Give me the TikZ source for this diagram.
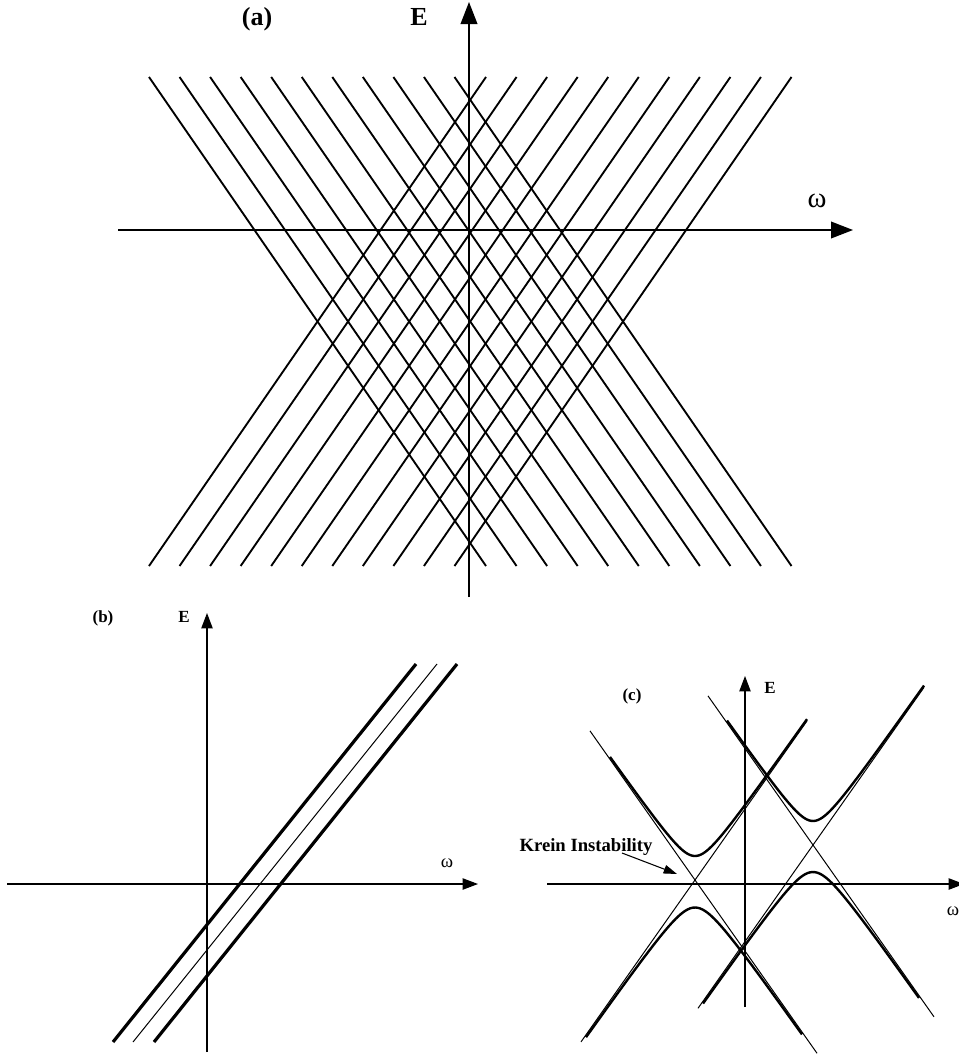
\documentclass[tikz,border=0pt]{standalone}
\usepackage{fontspec}
\setmainfont{Liberation Serif}
\usetikzlibrary{arrows.meta}
\begin{document}
\begin{tikzpicture}[x=0.75pt,y=-0.75pt,
  bigaxis/.style={line width=1.2pt, -{Triangle[length=16.5pt,width=12.5pt]}},
  smallaxis/.style={line width=0.8pt, -{Triangle[length=11.5pt,width=8.5pt]}},
  gridline/.style={line width=1.4pt},
  thinline/.style={line width=0.75pt},
  thickline/.style={line width=2.4pt},
  branch/.style={line width=1.8pt},
  biglabel/.style={font=\fontsize{19.5}{22}\selectfont\bfseries, inner sep=0pt, anchor=base},
  smalllabel/.style={font=\fontsize{12.75}{15}\selectfont\bfseries, inner sep=0pt, anchor=base},
  bigomega/.style={font=\fontsize{21.5}{24}\selectfont, inner sep=0pt, anchor=base},
  smallomega/.style={font=\fontsize{14}{16}\selectfont, inner sep=0pt, anchor=base},
  kreinlabel/.style={font=\fontsize{14}{16}\selectfont\bfseries, inner sep=0pt, anchor=base},
  kreinarrow/.style={line width=0.8pt, -{Triangle[length=10pt,width=6.5pt]}}
]
\useasboundingbox (0,0) rectangle (958,1057);

% ---------- panel (a) ----------
\foreach \k in {0,...,10} {
  \draw[gridline] ({149+30.55*\k},77) -- ({486+30.55*\k},566);
  \draw[gridline] ({149+30.55*\k},566) -- ({486+30.55*\k},77);
}
\coordinate (aVb) at (469,597);
\coordinate (aVt) at (469,2);
\coordinate (aHl) at (118,230);
\coordinate (aHr) at (853,230);
\draw[bigaxis] (aVb) -- (aVt);
\draw[bigaxis] (aHl) -- (aHr);
\node[biglabel] (alab) at (257,25) {(a)};
\node[biglabel] (aE) at (419,25) {E};
\node[bigomega] (aw) at (817,207) {ω};

% ---------- panel (b) ----------
\coordinate (bVb) at (207,1052);
\coordinate (bVt) at (207,613);
\coordinate (bHl) at (7,884);
\coordinate (bHr) at (478,884);
\draw[smallaxis] (bVb) -- (bVt);
\draw[smallaxis] (bHl) -- (bHr);
\draw[thickline] (113,1042) -- (416,664);
\draw[thinline] (133,1042) -- (437,664);
\draw[thickline] (154,1042) -- (457,664);
\node[smalllabel] (blab) at (103,622) {(b)};
\node[smalllabel] (bE) at (184,622) {E};
\node[smallomega] (bw) at (447,867) {ω};

% ---------- panel (c) ----------
\coordinate (cVb) at (745,1007);
\coordinate (cVt) at (745,676);
\coordinate (cHl) at (547,884);
\coordinate (cHr) at (964,884);
\draw[smallaxis] (cVb) -- (cVt);
\draw[smallaxis] (cHl) -- (cHr);
% thin asymptotes
\draw[thinline] (590,{880+1.42*(590-695)}) -- (817,{880+1.42*(817-695)});
\draw[thinline] (581,{880-1.42*(581-695)}) -- (807,{880-1.42*(807-695)});
\draw[thinline] (708,{845+1.42*(708-813)}) -- (934,{845+1.42*(934-813)});
\draw[thinline] (698,{845-1.42*(698-813)}) -- (924,{845-1.42*(924-813)});
% thick avoided-crossing branches
\draw[branch] plot[domain=610:807, samples=90, smooth] (\x,{880-10*sqrt((0.142*(\x-695))^2+2.4^2)});
\draw[branch] plot[domain=586:802, samples=90, smooth] (\x,{880+10*sqrt((0.142*(\x-695))^2+2.75^2)});
\draw[branch] plot[domain=727:924, samples=90, smooth] (\x,{845-10*sqrt((0.142*(\x-813))^2+2.4^2)});
\draw[branch] plot[domain=703:919, samples=90, smooth] (\x,{845+10*sqrt((0.142*(\x-813))^2+2.7^2)});
\node[smalllabel] (clab) at (632,700) {(c)};
\node[smalllabel] (cE) at (770,693) {E};
\node[smallomega] (cw) at (953,915) {ω};
\node[kreinlabel] (krein) at (586,851) {Krein Instability};
\coordinate (kreinfrom) at (622,853);
\coordinate (kreinpt) at (677,874);
\draw[kreinarrow] (kreinfrom) -- (kreinpt);
\end{tikzpicture}
\end{document}
